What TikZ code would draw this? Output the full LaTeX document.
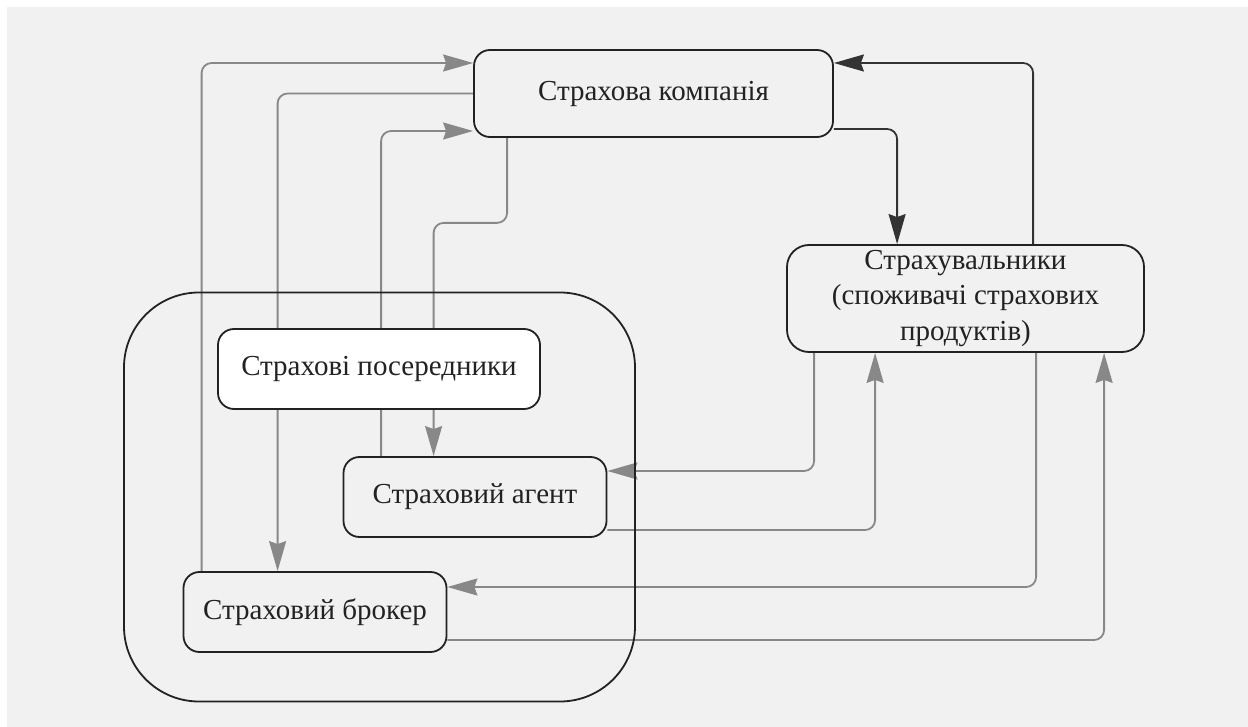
\documentclass[tikz,border=0pt]{standalone}
\usepackage{fontspec}
\setmainfont{Liberation Serif}
\usetikzlibrary{arrows.meta,backgrounds}
\definecolor{bgc}{HTML}{F1F1F1}
\definecolor{conngray}{HTML}{888888}
\definecolor{darkline}{HTML}{333333}
\definecolor{edge}{HTML}{222222}
\begin{document}
\begin{tikzpicture}[x=1pt,y=-1pt,
  box/.style={draw=edge, line width=1.8pt, rounded corners=16pt, fill=bgc, inner sep=0pt,
    align=center, font=\fontsize{29}{34}\selectfont, text=edge},
  conn/.style={draw=conngray, line width=1.8pt, rounded corners=10pt},
  darkconn/.style={draw=darkline, line width=1.8pt, rounded corners=10pt},
  gtip/.style={-{Stealth[length=30pt,width=17pt,inset=3pt,fill=conngray]}},
  dtip/.style={-{Stealth[length=30pt,width=17pt,inset=3pt,fill=darkline]}},
  group/.style={draw=edge, line width=1.8pt, rounded corners=75pt, inner sep=0pt}]
\useasboundingbox (0,0) rectangle (1248,727);

\node[box, minimum width=359pt, minimum height=87pt] (comp) at (653.5,93.5) {Страхова компанія};
\node[box, rounded corners=22pt, minimum width=357pt, minimum height=107pt,
  font=\fontsize{29}{35.5}\selectfont] (cust) at (965.5,298.5)
  {Страхувальники\\(споживачі страхових\\продуктів)};
\node[group, minimum width=511pt, minimum height=409pt] (grp) at (379.5,497) {};
\node[box, fill=white, minimum width=322pt, minimum height=80pt] (inter) at (379,369) {Страхові посередники};
\node[box, minimum width=263pt, minimum height=80pt] (agent) at (475,497) {Страховий агент};
\node[box, minimum width=263pt, minimum height=80pt] (broker) at (315,612) {Страховий брокер};

\begin{scope}[on background layer]
  \fill[white] (0,0) rectangle (1248,727);
  \fill[bgc] (7,7) rectangle (1248,727);
  % intermediaries <-> company
  \draw[conn,gtip] ([xshift=19pt]broker.north west) |- ([yshift=30.5pt]comp.west);
  \draw[conn,gtip] (comp.west) -| ([xshift=95pt]broker.north west);
  \draw[conn,gtip] ([xshift=38.5pt]agent.north west) |- ([yshift=-37.5pt]comp.west);
  \draw[conn,gtip] ([xshift=34pt]comp.south west) -- ++(0,85) -| ([xshift=91pt]agent.north west);
  % company <-> customers
  \draw[darkconn,dtip] ([yshift=-35.5pt]comp.east) -| ([xshift=111pt]cust.north west);
  \draw[darkconn,dtip] ([xshift=247pt]cust.north west) |- ([yshift=30.5pt]comp.east);
  % customers <-> agent / broker
  \draw[conn,gtip] ([xshift=28pt]cust.south west) |- ([yshift=26pt]agent.east);
  \draw[conn,gtip] ([yshift=-33pt]agent.east) -| ([xshift=89pt]cust.south west);
  \draw[conn,gtip] ([xshift=250pt]cust.south west) |- ([yshift=25pt]broker.east);
  \draw[conn,gtip] ([yshift=-28pt]broker.east) -| ([xshift=318pt]cust.south west);
\end{scope}
\end{tikzpicture}
\end{document}
